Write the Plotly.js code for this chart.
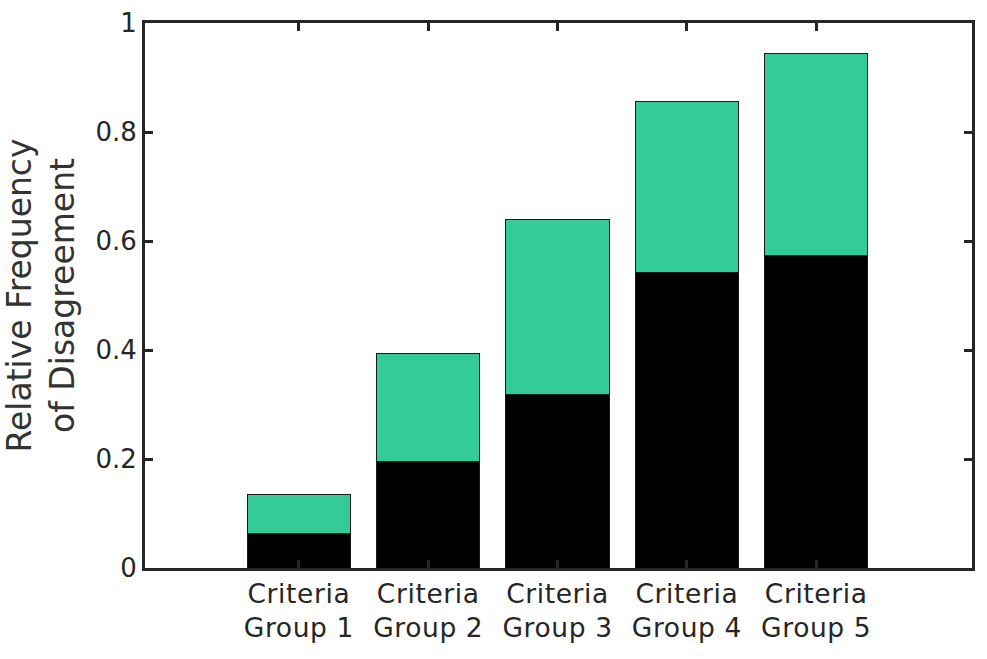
<!DOCTYPE html>
<html>
<head>
<meta charset="utf-8">
<script src="https://cdn.plot.ly/plotly-3.0.1.min.js"></script>
<style>
html,body{margin:0;padding:0;background:#fff;}
#chart{width:987px;height:659px;}
#chart .xtick text{letter-spacing:0.6px;}
</style>
</head>
<body>
<div id="chart"></div>
<script>
const positions = [1, 2, 3, 4, 5];
const tickLabels = ["Criteria<br>Group 1", "Criteria<br>Group 2", "Criteria<br>Group 3", "Criteria<br>Group 4", "Criteria<br>Group 5"];
const blackPart = [0.063, 0.196, 0.318, 0.543, 0.573];
const greenPart = [0.072, 0.197, 0.321, 0.313, 0.371];
const yTicks = [0, 0.2, 0.4, 0.6, 0.8, 1];
const yTickLabels = ['0', '0.2', '0.4', '0.6', '0.8', '1'];

const axisColor = '#262626';
const traces = [
  {type: 'bar', x: positions, y: blackPart, width: 0.8,
   marker: {color: '#000000', line: {color: '#1a1a1a', width: 1}}, hoverinfo: 'skip'},
  {type: 'bar', x: positions, y: greenPart, width: 0.8,
   marker: {color: '#33CC99', line: {color: '#1a1a1a', width: 1}}, hoverinfo: 'skip'}
];
const layout = {
  width: 987, height: 659,
  barmode: 'stack',
  showlegend: false,
  paper_bgcolor: '#ffffff', plot_bgcolor: '#ffffff',
  margin: {l: 145, r: 15, t: 23, b: 91},
  font: {family: 'DejaVu Sans', color: axisColor},
  xaxis: {
    range: [-0.19, 6.205], tickvals: positions, ticktext: tickLabels,
    ticks: 'inside', ticklen: 8, tickwidth: 3, tickcolor: axisColor,
    showline: true, linewidth: 3, linecolor: axisColor, mirror: 'allticks',
    showgrid: false, zeroline: false,
    tickfont: {family: 'DejaVu Sans', size: 26.5, color: axisColor}
  },
  yaxis: {
    range: [0, 1], tickvals: yTicks, ticktext: yTickLabels,
    ticks: 'inside', ticklen: 8, tickwidth: 3, tickcolor: axisColor,
    showline: true, linewidth: 3, linecolor: axisColor, mirror: 'allticks',
    showgrid: false, zeroline: false,
    tickfont: {family: 'DejaVu Sans', size: 26, color: axisColor},
    title: {text: 'Relative Frequency<br>of Disagreement', standoff: 12,
            font: {family: 'DejaVu Sans', size: 33, color: '#333333'}}
  }
};
Plotly.newPlot('chart', traces, layout, {displayModeBar: false, staticPlot: true});
</script>
</body>
</html>
